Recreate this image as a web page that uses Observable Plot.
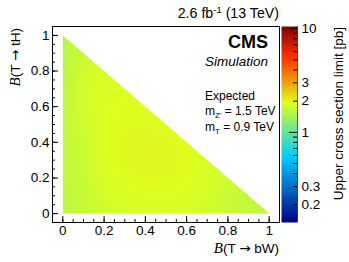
<!DOCTYPE html>
<html>
<head>
<meta charset="utf-8">
<script src="https://cdn.jsdelivr.net/npm/d3@7"></script>
<script src="https://cdn.jsdelivr.net/npm/@observablehq/plot@0.6"></script>
<style>
  body { margin: 0; background: white; }
  #wrap { position: relative; width: 349px; height: 262px; overflow: hidden; }
  #wrap svg { position: absolute; top: 0; }
</style>
</head>
<body>
<div id="wrap"></div>
<script>
// ---- data ----
// B(T->tH) values, one row per value, each row lists limits for B(T->bW) = 0, 0.1, ... up to 1 - B(tH)
const bTH = [0, 0.1, 0.2, 0.3, 0.4, 0.5, 0.6, 0.7, 0.8, 0.9, 1.0];
const bBW = [0, 0.1, 0.2, 0.3, 0.4, 0.5, 0.6, 0.7, 0.8, 0.9, 1.0];
const limitRows = [
  [1.62, 1.68, 1.76, 1.82, 1.86, 1.86, 1.84, 1.78, 1.72, 1.66, 1.62],
  [1.62, 1.70, 1.82, 1.88, 1.92, 1.92, 1.88, 1.82, 1.72, 1.66],
  [1.64, 1.72, 1.86, 1.94, 1.97, 1.97, 1.93, 1.85, 1.75],
  [1.64, 1.75, 1.89, 1.98, 2.00, 2.00, 1.96, 1.88],
  [1.64, 1.75, 1.90, 1.98, 2.00, 1.98, 1.93],
  [1.64, 1.78, 1.90, 1.96, 1.96, 1.93],
  [1.64, 1.80, 1.90, 1.94, 1.92],
  [1.62, 1.80, 1.88, 1.88],
  [1.60, 1.78, 1.85],
  [1.57, 1.72],
  [1.56]
];
const xMajorTicks = [0, 0.2, 0.4, 0.6, 0.8, 1];
const yMajorTicks = [0, 0.2, 0.4, 0.6, 0.8, 1];
const zTickLabels = [0.2, 0.3, 1, 2, 3, 10];
const zDomain = [0.135, 10.5];

// table built from the arrays
const points = [];
limitRows.forEach((row, j) => row.forEach((v, i) => points.push({x: bBW[i], y: bTH[j], v})));

// ROOT-like gradient palette
const stops = [0, 0.34, 0.61, 0.84, 1];
const stopColors = ["rgb(0,0,130)", "rgb(0,207,255)", "rgb(222,255,31)", "rgb(255,51,0)", "rgb(130,0,0)"];
const pieces = stopColors.slice(1).map((c, k) => d3.interpolateRgb(stopColors[k], c));
function palette(t) {
  t = Math.max(0, Math.min(1, t));
  let k = 0;
  while (k < stops.length - 2 && t > stops[k + 1]) k++;
  return pieces[k]((t - stops[k]) / (stops[k + 1] - stops[k]));
}
const colorSpec = {type: "log", domain: zDomain, interpolate: palette, clamp: true};
const font = "'Liberation Sans', Arial, Helvetica, sans-serif";
const fmt = d => String(d);

const minorX = d3.range(0, 1.0001, 0.05).map(d => +d.toFixed(2));
const minorY = minorX;

const fw = 349 - 52 - 70, fh = 262 - 26 - 40;

const main = Plot.plot({
  width: 349, height: 262,
  marginLeft: 52, marginRight: 70, marginTop: 26, marginBottom: 40,
  x: {domain: [-0.05, 1.05]},
  y: {domain: [-0.05, 1.05]},
  color: colorSpec,
  style: {fontFamily: font, fontSize: "13.5px", color: "black", background: "white"},
  marks: [
    Plot.raster(points, {x: "x", y: "y", fill: "v", interpolate: "barycentric", x1: 0, x2: 1, y1: 0, y2: 1}),
    Plot.areaY([0, 1.01], {x: d => d, y1: d => 1 - d, y2: 1.01, fill: "white"}),
    Plot.ruleX(minorX, {insetTop: fh - 3, stroke: "black"}),
    Plot.ruleX(xMajorTicks, {insetTop: fh - 6, stroke: "black"}),
    Plot.ruleY(minorY, {insetRight: fw - 3, stroke: "black"}),
    Plot.ruleY(yMajorTicks, {insetRight: fw - 6, stroke: "black"}),
    Plot.axisX({ticks: xMajorTicks, tickSize: 0, tickPadding: 3, tickFormat: fmt, label: null}),
    Plot.axisY({ticks: yMajorTicks, tickSize: 0, tickPadding: 3, tickFormat: fmt, label: null}),
    Plot.frame({stroke: "black"})
  ]
});
main.style.left = "0px";

const zMinor = [0.2,0.3,0.4,0.5,0.6,0.7,0.8,0.9,2,3,4,5,6,7,8,9];
const zMajor = [1, 10];
const cbW = 16;
const cb = Plot.plot({
  width: 69, height: 262,
  marginLeft: 1, marginRight: 52, marginTop: 26, marginBottom: 40,
  x: {domain: [0, 1]},
  y: {type: "log", domain: zDomain},
  color: colorSpec,
  style: {fontFamily: font, fontSize: "13.5px", color: "black", background: "transparent"},
  marks: [
    Plot.raster({fill: (x, y) => y, x1: 0, x2: 1, y1: zDomain[0], y2: zDomain[1], pixelSize: 1}),
    Plot.ruleY(zMinor, {insetLeft: cbW - 4, stroke: "black"}),
    Plot.ruleY(zMajor, {insetLeft: cbW - 8, stroke: "black"}),
    Plot.ruleX([1], {stroke: "black", strokeOpacity: 0.6}),
    Plot.axisY({anchor: "right", ticks: zTickLabels, tickSize: 0, tickPadding: 4, tickFormat: fmt, label: null}),
    Plot.axisX({ticks: [], label: null, tickSize: 0})
  ]
});
cb.style.left = "280px";

document.getElementById("wrap").append(main, cb);

// ---- text annotations ----
const s = d3.select(main);
const arrowFont = "'DejaVu Sans', sans-serif";
const t1 = s.append("text").attr("x", 279).attr("y", 18).attr("text-anchor", "end")
  .style("font-family", font).style("font-size", "14.2px");
t1.append("tspan").text("2.6 fb");
t1.append("tspan").style("font-size", "9.5px").attr("dy", -5).text("-1");
t1.append("tspan").attr("dy", 5).style("font-size", "14.2px").text(" (13 TeV)");

s.append("text").attr("x", 268).attr("y", 48).attr("text-anchor", "end")
  .style("font-family", font).style("font-size", "18px").style("font-weight", "bold").text("CMS");
s.append("text").attr("x", 268).attr("y", 66).attr("text-anchor", "end")
  .style("font-family", font).style("font-size", "13.5px").style("font-style", "italic").text("Simulation");

s.append("text").attr("x", 205).attr("y", 100).attr("text-anchor", "start")
  .style("font-family", font).style("font-size", "12px").text("Expected");
const m1 = s.append("text").attr("x", 205).attr("y", 114.5).attr("text-anchor", "start")
  .style("font-family", font).style("font-size", "12px");
m1.append("tspan").text("m");
m1.append("tspan").style("font-size", "8px").attr("dy", 3).text("Z'");
m1.append("tspan").attr("dy", -3).text(" = 1.5 TeV");
const m2 = s.append("text").attr("x", 205).attr("y", 130.5).attr("text-anchor", "start")
  .style("font-family", font).style("font-size", "12px");
m2.append("tspan").text("m");
m2.append("tspan").style("font-size", "8px").attr("dy", 3).text("T");
m2.append("tspan").attr("dy", -3).text(" = 0.9 TeV");

const xl = s.append("text").attr("x", 279).attr("y", 253).attr("text-anchor", "end")
  .style("font-family", font).style("font-size", "13.5px");
xl.append("tspan").style("font-family", "'Liberation Serif', 'Times New Roman', serif").style("font-style", "italic").style("font-size", "15px").text("B");
xl.append("tspan").text("(T ");
xl.append("tspan").style("font-family", arrowFont).text("\u2192");
xl.append("tspan").text(" bW)");

const yl = s.append("text").attr("transform", "translate(20,28) rotate(-90)").attr("text-anchor", "end")
  .style("font-family", font).style("font-size", "13.5px");
yl.append("tspan").style("font-family", "'Liberation Serif', 'Times New Roman', serif").style("font-style", "italic").style("font-size", "15px").text("B");
yl.append("tspan").text("(T ");
yl.append("tspan").style("font-family", arrowFont).text("\u2192");
yl.append("tspan").text(" tH)");

d3.select(cb).append("text").attr("transform", "translate(63,27) rotate(-90)").attr("text-anchor", "end")
  .style("font-family", font).style("font-size", "13.5px").text("Upper cross section limit [pb]");
</script>
</body>
</html>
